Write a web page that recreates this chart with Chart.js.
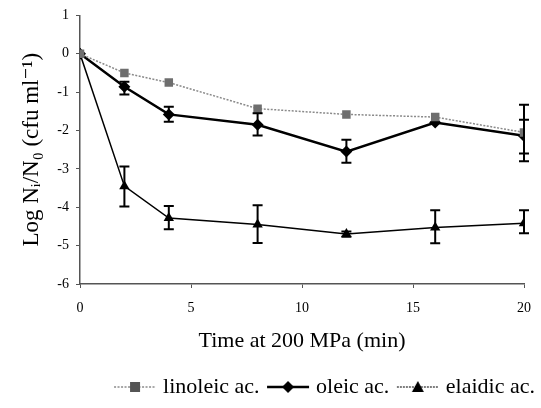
<!DOCTYPE html>
<html>
<head>
<meta charset="utf-8">
<script src="https://cdn.jsdelivr.net/npm/chart.js@4"></script>
<style>
  html, body { margin: 0; padding: 0; background: #fff; }
</style>
</head>
<body>
<canvas id="chart" width="541" height="408"></canvas>
<script>
// temps de traitement (min) et valeurs log Ni/N0
const times = [0, 2, 4, 8, 12, 16, 20];
const linoleic = [0, -0.5, -0.75, -1.43, -1.58, -1.65, -2.05];
const oleic = [0, -0.86, -1.58, -1.85, -2.55, -1.79, -2.14];
const elaidic = [0, -3.45, -4.28, -4.45, -4.7, -4.53, -4.42];

// barres d'erreur (haut / bas), null = pas de barre
const linoleicHi = [null, null, null, null, null, null, -1.72];
const linoleicLo = [null, null, null, null, null, null, -2.6];
const oleicHi = [null, -0.73, -1.38, -1.55, -2.24, null, -1.33];
const oleicLo = [null, -1.06, -1.77, -2.13, -2.84, null, -2.8];
const elaidicHi = [null, -2.94, -3.97, -3.95, -4.63, -4.08, -4.08];
const elaidicLo = [null, -3.98, -4.57, -4.93, -4.77, -4.94, -4.68];

const yTicks = [1, 0, -1, -2, -3, -4, -5, -6];
const xTicks = [0, 5, 10, 15, 20];

const serif = "'Liberation Serif', 'DejaVu Serif', serif";

function toPoints(vals) {
  return times.map((t, i) => ({ x: t, y: vals[i] }));
}

// petite image pour la légende : trait + marqueur
function legendIcon(color, lineColor, dash, lw, style) {
  const c = document.createElement('canvas');
  c.width = 44; c.height = 14;
  const g = c.getContext('2d');
  g.strokeStyle = lineColor;
  g.lineWidth = lw;
  g.setLineDash(dash);
  g.beginPath(); g.moveTo(1, 7); g.lineTo(43, 7); g.stroke();
  g.setLineDash([]);
  g.fillStyle = color;
  g.beginPath();
  if (style === 'rect') {
    g.rect(17, 2, 10, 10);
  } else if (style === 'rectRot') {
    g.moveTo(22, 1); g.lineTo(28, 7); g.lineTo(22, 13); g.lineTo(16, 7); g.closePath();
  } else {
    g.moveTo(22, 1); g.lineTo(28, 12); g.lineTo(16, 12); g.closePath();
  }
  g.fill();
  return c;
}

const errorBars = {
  id: 'errorBars',
  afterDatasetsDraw(chart) {
    const ctx = chart.ctx;
    const xs = chart.scales.x, ys = chart.scales.y;
    ctx.save();
    ctx.strokeStyle = '#000';
    ctx.lineWidth = 2;
    chart.data.datasets.forEach(ds => {
      times.forEach((t, i) => {
        const hi = ds.errHi[i], lo = ds.errLo[i];
        if (hi === null || lo === null) return;
        const px = xs.getPixelForValue(t);
        const p1 = ys.getPixelForValue(hi), p2 = ys.getPixelForValue(lo);
        ctx.beginPath();
        ctx.moveTo(px, p1); ctx.lineTo(px, p2);
        ctx.moveTo(px - 5, p1); ctx.lineTo(px + 5, p1);
        ctx.moveTo(px - 5, p2); ctx.lineTo(px + 5, p2);
        ctx.stroke();
      });
    });
    ctx.restore();
  }
};

new Chart(document.getElementById('chart'), {
  type: 'line',
  data: {
    datasets: [
      {
        label: 'linoleic ac.',
        data: toPoints(linoleic),
        errHi: linoleicHi, errLo: linoleicLo,
        borderColor: '#8a8a8a', backgroundColor: '#6e6e6e',
        borderWidth: 1.5, borderDash: [2, 1.5],
        pointStyle: 'rect', pointRadius: 6, pointBorderWidth: 0,
        icon: legendIcon('#555', '#8a8a8a', [2, 1.5], 1.5, 'rect')
      },
      {
        label: 'oleic ac.',
        data: toPoints(oleic),
        errHi: oleicHi, errLo: oleicLo,
        borderColor: '#000', backgroundColor: '#000',
        borderWidth: 2.5,
        pointStyle: 'rectRot', pointRadius: 6, pointBorderWidth: 0,
        icon: legendIcon('#000', '#000', [], 2.5, 'rectRot')
      },
      {
        label: 'elaidic ac.',
        data: toPoints(elaidic),
        errHi: elaidicHi, errLo: elaidicLo,
        borderColor: '#000', backgroundColor: '#000',
        borderWidth: 1.5,
        pointStyle: 'triangle', pointRadius: 6, pointBorderWidth: 0,
        icon: legendIcon('#000', '#555', [2, 1], 1.5, 'triangle')
      }
    ]
  },
  options: {
    responsive: false,
    devicePixelRatio: 1,
    animation: false,
    layout: { padding: { left: 0, right: 0, top: 8, bottom: 0 } },
    plugins: {
      tooltip: { enabled: false },
      legend: {
        position: 'bottom',
        align: 'end',
        labels: {
          font: { family: serif, size: 22 },
          color: '#000',
          usePointStyle: true,
          pointStyleWidth: 34,
          padding: 6,
          generateLabels(chart) {
            const n = chart.data.datasets.length;
            return chart.data.datasets.map((ds, i) => ({
              // un espace en plus entre les entrées
              text: i < n - 1 ? ds.label + ' ' : ds.label,
              pointStyle: ds.icon,
              datasetIndex: i,
              fontColor: '#000',
              lineWidth: 0
            }));
          }
        }
      }
    },
    scales: {
      x: {
        type: 'linear',
        min: 0, max: 20,
        afterBuildTicks(scale) { scale.ticks = xTicks.map(v => ({ value: v })); },
        afterFit(scale) { scale.height = 86; scale.paddingRight = 17; },
        grid: { display: true, drawOnChartArea: false, tickLength: 4, color: '#555' },
        border: { color: '#555', width: 1.5 },
        ticks: { font: { family: serif, size: 14 }, color: '#000', padding: 12, maxRotation: 0 },
        title: {
          display: true,
          text: 'Time at 200 MPa (min)',
          font: { family: serif, size: 22 },
          color: '#000',
          padding: { top: 0, bottom: 16 }
        }
      },
      y: {
        min: -6, max: 1,
        afterBuildTicks(scale) { scale.ticks = yTicks.map(v => ({ value: v })); },
        afterFit(scale) { scale.width = 80; },
        grid: { display: true, drawOnChartArea: false, tickLength: 4, color: '#555' },
        border: { color: '#555', width: 1.5 },
        ticks: { font: { family: serif, size: 14 }, color: '#000', padding: 7 },
        title: {
          display: true,
          text: 'Log Nᵢ/N₀ (cfu ml⁻¹)',
          font: { family: serif, size: 23 },
          color: '#000',
          padding: { top: 18, bottom: 0 }
        }
      }
    }
  },
  plugins: [errorBars]
});
</script>
</body>
</html>
